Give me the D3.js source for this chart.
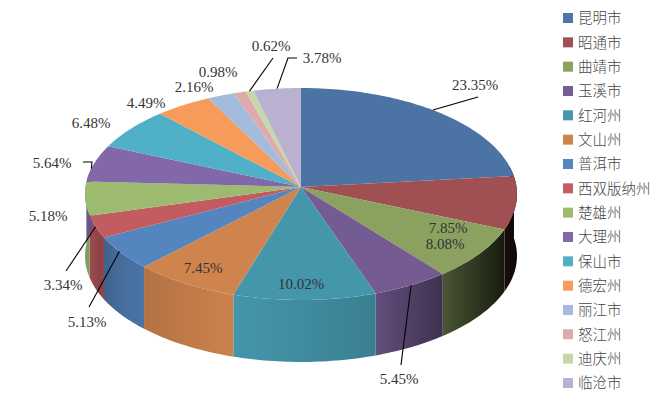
<!DOCTYPE html>
<html>
<head>
<meta charset="utf-8">
<script src="https://cdnjs.cloudflare.com/ajax/libs/d3/7.8.5/d3.min.js"></script>
<style>
  html, body { margin: 0; padding: 0; background: #fff; }
  svg { display: block; }
</style>
</head>
<body>
<div id="chart"></div>
<script>
const categories = ['昆明市', '昭通市', '曲靖市', '玉溪市', '红河州', '文山州', '普洱市', '西双版纳州',
  '楚雄州', '大理州', '保山市', '德宏州', '丽江市', '怒江州', '迪庆州', '临沧市']
const shares = [23.35, 8.08, 7.85, 5.45, 10.02, 7.45, 5.13, 3.34, 5.18, 5.64, 6.48, 4.49, 2.16, 0.98, 0.62, 3.78]
const colors = ['#4b74a5', '#a04f52', '#8aa160', '#745c92', '#4496ab', '#cf834d', '#5585bf', '#c25c60',
  '#9dbb70', '#8268a8', '#4fb0c8', '#f79b5b', '#a5bbdc', '#dfaaab', '#c5d8a8', '#bab0d0']

// label centres, same order as categories
const labelX = [475, 445, 448, 399, 301, 203, 87, 63, 48, 52, 91, 146, 194, 218, 271, 322]
const labelY = [85, 244, 228, 379, 284, 268, 322, 285, 216, 163, 123, 103, 87, 72, 46, 58]

const width = 663
const height = 396
const hub = { x: 301, y: 187 }
const depth = 62
const persp = 0.066
const scaleX = 215.5
const scaleY = 105.5

// circle -> screen, front of the pie is nearer so it comes out bigger
function project(a, r = 1, drop = 0) {
  const u = Math.sin(a) * r
  const v = -Math.cos(a) * r
  const w = 1 - persp * v
  return [hub.x + scaleX * u / w, hub.y + scaleY * v / w + drop]
}

function arcPoints(a0, a1, drop = 0) {
  const n = Math.max(2, Math.ceil((a1 - a0) / 0.02))
  return d3.range(n + 1).map(i => project(a0 + (a1 - a0) * i / n, 1, drop))
}

const svg = d3.select('#chart').append('svg')
  .attr('width', width)
  .attr('height', height)

const defs = svg.append('defs')
const arcs = d3.pie().sort(null).value(d => d)(shares)
const line = d3.line()

// wall lighting, goes almost black at the right end
const light = d3.scaleLinear()
  .domain([85, 100, 130, 240, 375, 440, 500, 518])
  .range([0.85, 0.72, 0.85, 1, 0.85, 0.55, 0.2, 0.08])
  .clamp(true)

const wall = svg.append('g').classed('wall', true)
arcs.forEach((d, i) => {
  // only the front half has a visible side
  const a0 = Math.max(d.startAngle, Math.PI / 2 - 0.2)
  const a1 = Math.min(d.endAngle, Math.PI * 1.5 + 0.2)
  if (a1 <= a0) return
  const top = arcPoints(a0, a1)
  const bottom = arcPoints(a0, a1, depth).reverse()
  const xs = top.map(p => p[0])
  const x0 = d3.min(xs)
  const x1 = d3.max(xs)
  const grad = defs.append('linearGradient')
    .attr('id', `wall-${i}`)
    .attr('gradientUnits', 'userSpaceOnUse')
    .attr('x1', x0).attr('x2', x1).attr('y1', 0).attr('y2', 0)
  d3.range(7).forEach(k => {
    const x = x0 + (x1 - x0) * k / 6
    grad.append('stop')
      .attr('offset', k / 6)
      .attr('stop-color', d3.interpolateRgb('#000', colors[i])(light(x)))
  })
  wall.append('path')
    .attr('d', line(top.concat(bottom)) + 'Z')
    .attr('fill', `url(#wall-${i})`)
})

const face = svg.append('g').classed('face', true)
arcs.forEach((d, i) => {
  const pts = [[hub.x, hub.y]].concat(arcPoints(d.startAngle, d.endAngle))
  face.append('path')
    .attr('d', line(pts) + 'Z')
    .attr('fill', colors[i])
})

// leader lines, slice index and the bends towards the label
const leaders = [
  { i: 0, t: 0.476, pts: [[478, 97]] },
  { i: 3, t: 0.5, pts: [[401, 365]] },
  { i: 6, t: 0.55, pts: [[89, 307]] },
  { i: 7, t: 0.5, pts: [[66, 271]] },
  { i: 9, t: 0.35, pts: [[92, 162], [83, 162]] },
  { i: 14, t: 0.5, pts: [[273, 58]] },
  { i: 15, t: 0.5, pts: [[288, 58], [297, 58]] }
]
svg.append('g').classed('leaders', true)
  .selectAll('path').data(leaders).enter()
  .append('path')
  .attr('d', d => {
    const a = arcs[d.i]
    const start = project(a.startAngle + (a.endAngle - a.startAngle) * d.t)
    return line([start].concat(d.pts))
  })
  .attr('fill', 'none')
  .attr('stroke', '#000')
  .attr('stroke-width', 1.1)

svg.append('g').classed('labels', true)
  .style('opacity', 0.99)
  .selectAll('text').data(shares).enter()
  .append('text')
  .attr('x', (d, i) => labelX[i])
  .attr('y', (d, i) => labelY[i])
  .attr('dy', '0.35em')
  .attr('text-anchor', 'middle')
  .style('font-family', '"Liberation Serif", serif')
  .style('font-size', '15px')
  .style('fill', '#333')
  .text(d => d.toFixed(2) + '%')

const legendY = d3.scalePoint().domain(categories).range([18, 383])
const legend = svg.append('g').classed('legend', true)
  .style('opacity', 0.99)
  .selectAll('g').data(categories).enter()
  .append('g')
  .attr('transform', d => `translate(563, ${legendY(d)})`)
legend.append('rect')
  .attr('x', 0).attr('y', -5)
  .attr('width', 10).attr('height', 10)
  .attr('fill', (d, i) => colors[i])
legend.append('text')
  .attr('x', 15)
  .attr('dy', '0.36em')
  .style('font-family', '"Noto Sans CJK SC", sans-serif')
  .style('font-size', '14.5px')
  .style('font-weight', 300)
  .style('fill', '#444')
  .text(d => d)
</script>
</body>
</html>
